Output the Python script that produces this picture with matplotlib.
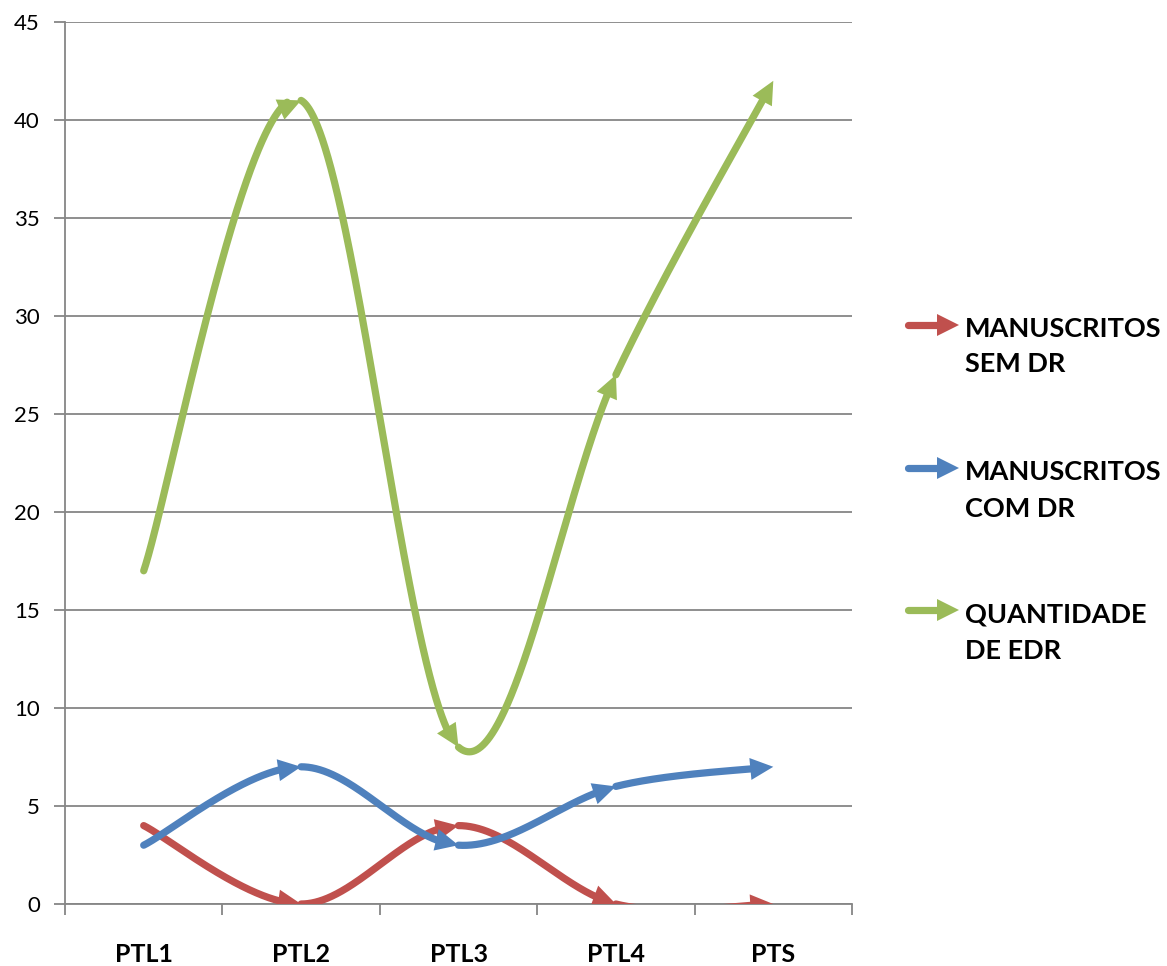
"""Evolução de manuscritos e EDR por etapa (PTL1 … PTS), linhas suavizadas com setas."""

import matplotlib.pyplot as plt
import numpy as np
from matplotlib.lines import Line2D
from matplotlib.patches import Polygon

plt.rcParams["font.family"] = ["Lato", "DejaVu Sans"]

# --------------------------------------------------------------------------
# dados
# --------------------------------------------------------------------------
etapas = ["PTL1", "PTL2", "PTL3", "PTL4", "PTS"]
sem_dr = [4, 0, 4, 0, 0]
com_dr = [3, 7, 3, 6, 7]
qtd_edr = [17, 41, 8, 27, 42]

series = [
    ("MANUSCRITOS\nSEM DR", sem_dr, "#C0504D"),
    ("MANUSCRITOS\nCOM DR", com_dr, "#4F81BD"),
    ("QUANTIDADE\nDE EDR", qtd_edr, "#9BBB59"),
]

GRID = "#868686"
LW = 5.2          # espessura das linhas (pt)
HEAD_LEN = 23     # comprimento da ponta da seta (px)
HEAD_HALF = 11    # meia largura da ponta (px)


def bezier_segments(xs, ys):
    """Suavização tipo Excel: cada trecho vira uma Bézier cúbica (Catmull-Rom 1/6)."""
    pts = np.column_stack([xs, ys]).astype(float)
    n = len(pts)
    segs = []
    for i in range(n - 1):
        p0 = pts[max(i - 1, 0)]
        p1 = pts[i]
        p2 = pts[i + 1]
        p3 = pts[min(i + 2, n - 1)]
        c1 = p1 + (p2 - p0) / 6.0
        c2 = p2 - (p3 - p1) / 6.0
        segs.append((p1, c1, c2, p2))
    return segs


def eval_bezier(p1, c1, c2, p2, t):
    t = t[:, None]
    return ((1 - t) ** 3 * p1 + 3 * t * (1 - t) ** 2 * c1
            + 3 * t ** 2 * (1 - t) * c2 + t ** 3 * p2)


def draw_segment(ax, curva, color, z):
    """Trecho da curva terminando numa ponta de seta orientada pela corda final."""
    to_px = ax.transData
    px = to_px.transform(curva)
    tip = px[-1]
    dist = np.hypot(*(px - tip).T)

    # a linha para antes da ponta, para não aparecer por cima dela
    corpo = curva[dist >= HEAD_LEN * 0.6]
    ax.plot(corpo[:, 0], corpo[:, 1], color=color, lw=LW,
            solid_capstyle="round", solid_joinstyle="round", zorder=z)

    longe = np.nonzero(dist >= HEAD_LEN)[0]
    back = px[longe[-1]] if len(longe) else px[0]
    d = tip - back
    d = d / np.hypot(*d)
    nrm = np.array([-d[1], d[0]])
    base = tip - HEAD_LEN * d
    tri_px = np.array([tip, base + HEAD_HALF * nrm, base - HEAD_HALF * nrm])
    tri = to_px.inverted().transform(tri_px)
    ax.add_patch(Polygon(tri, closed=True, facecolor=color, edgecolor="none",
                         zorder=z, clip_on=True))


fig = plt.figure(figsize=(11.67, 9.66), dpi=100)
ax = fig.add_axes([65 / 1167, 62 / 966, 787 / 1167, 882 / 966])

x = np.arange(len(etapas))
ax.set_xlim(-0.5, len(etapas) - 0.5)
ax.set_ylim(0, 45)

t = np.linspace(0, 1, 600)
for k, (nome, vals, cor) in enumerate(series):
    for p1, c1, c2, p2 in bezier_segments(x, vals):
        draw_segment(ax, eval_bezier(p1, c1, c2, p2, t), cor, 3 + k)

# eixos e grade
ax.set_yticks(np.arange(0, 46, 5))
ax.yaxis.grid(True, color=GRID, lw=1.3)
ax.set_axisbelow(True)
ax.set_xticks(x)
ax.set_xticklabels(etapas, fontsize=18, fontweight="bold")
ax.set_xticks(np.arange(-0.5, len(etapas)), minor=True)
ax.tick_params(axis="x", which="major", length=0, pad=28)
ax.tick_params(axis="x", which="minor", length=8, width=1.3, color=GRID, direction="out")
ax.tick_params(axis="y", length=8, width=1.3, color=GRID, direction="out",
               labelsize=16, pad=10)
for lado in ("top", "right"):
    ax.spines[lado].set_visible(False)
for lado in ("left", "bottom"):
    ax.spines[lado].set_color(GRID)
    ax.spines[lado].set_linewidth(1.3)

# legenda à direita, com setas (posições em pixels da figura)
seta_y = [325, 468, 610]
base_y = [(337, 372), (480, 517), (622, 659)]
H, W = 966, 1167
for (nome, vals, cor), ya, (b1, b2) in zip(series, seta_y, base_y):
    yl = 1 - ya / H
    fig.add_artist(Line2D([908 / W, 940 / W], [yl, yl], color=cor, lw=LW,
                          solid_capstyle="round"))
    tri = np.array([[959, 0], [937, 11], [937, -11]], dtype=float)
    tri[:, 0] /= W
    tri[:, 1] = yl + tri[:, 1] / H
    fig.add_artist(Polygon(tri, closed=True, facecolor=cor, edgecolor="none",
                           transform=fig.transFigure))
    linha1, linha2 = nome.split("\n")
    fig.text(965 / W, 1 - b1 / H, linha1, fontsize=19.5, fontweight="bold",
             va="baseline", ha="left")
    fig.text(965 / W, 1 - b2 / H, linha2, fontsize=19.5, fontweight="bold",
             va="baseline", ha="left")

fig.savefig("out.png", dpi=100)
